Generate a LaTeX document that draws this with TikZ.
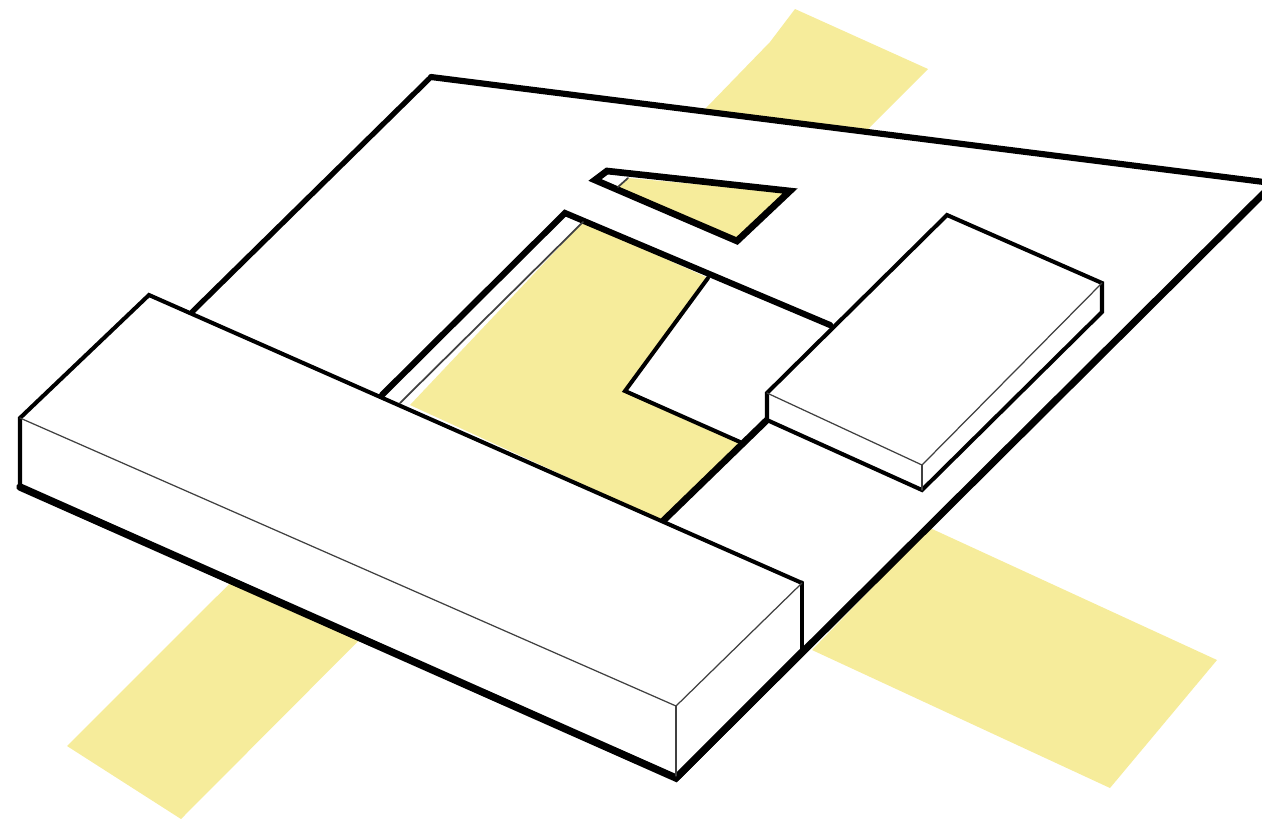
\documentclass[tikz,border=0pt]{standalone}
\definecolor{paleyellow}{RGB}{246,236,155}
\tikzset{
  edgethick/.style={black,line width=3.5pt},
  edgemid/.style={black,line width=2.3pt},
  edgethin/.style={black!75,line width=0.7pt},
  patch/.style={fill=paleyellow,draw=none},
}
\begin{document}
\begin{tikzpicture}[line cap=round,line join=miter,x=0.02cm,y=-0.02cm]
\useasboundingbox (0,0) rectangle (1262,823);
\fill[patch] (795,9) -- (770,42) -- (706,108) -- (67,746) -- (181,819) -- (928,69) -- cycle;
\fill[patch] (930,528) -- (1217,660) -- (1110,788) -- (812,650) -- cycle;
\fill[white] (431,77) -- (1262,182) -- (1262,195) -- (676,780) -- (20,487) -- (20,418) -- (149,295) -- (192,312) -- cycle;
\fill[patch] (583,222) -- (706,277) -- (625,391) -- (740,442) -- (663,521) -- (410,405) -- cycle;
\fill[patch] (628,178) -- (785,192) -- (737,241) -- (616,187) -- cycle;
\draw[edgethick,line width=3pt] (192,312) -- (431,77);
\draw[edgethick] (431,77) -- (1264,182);
\draw[edgethick,line width=4pt] (1264,193) -- (676,778);
\draw[edgethick] (382,395) -- (565,213) -- (830,325);
\draw[edgethin,line width=1pt] (583,222) -- (400,403);
\draw[edgemid] (708,278) -- (625,391) -- (740,442);
\draw[edgethick,line width=3.8pt] (767,420) -- (663,521);
\draw[edgethick,line width=3.8pt] (607,171) -- (790,191) -- (737,241) -- (595,180) -- cycle;
\draw[edgethin,line width=1pt] (628,178) -- (618,187);
\filldraw[fill=white,draw=none] (767,393) -- (947,215) -- (1102,283) -- (1102,312) -- (922,490) -- (767,420) -- cycle;
\draw[edgemid] (767,393) -- (947,215) -- (1102,283) -- (1102,312) -- (922,490) -- (767,420) -- cycle;
\draw[edgethin] (767,393) -- (922,465) -- (1102,283);
\draw[edgethin] (922,465) -- (922,490);
\filldraw[fill=white,draw=none] (20,418) -- (149,295) -- (802,583) -- (802,650) -- (676,778) -- (20,487) -- cycle;
\draw[edgemid] (20,487) -- (20,418) -- (149,295) -- (802,583);
\draw[edgemid,line width=2.8pt] (802,583) -- (802,650);
\draw[edgethick,line width=4.2pt] (20,487) -- (676,778) -- (802,652);
\draw[edgethin] (20,418) -- (676,706) -- (802,583);
\draw[edgethin] (676,706) -- (676,776);
\end{tikzpicture}
\end{document}
